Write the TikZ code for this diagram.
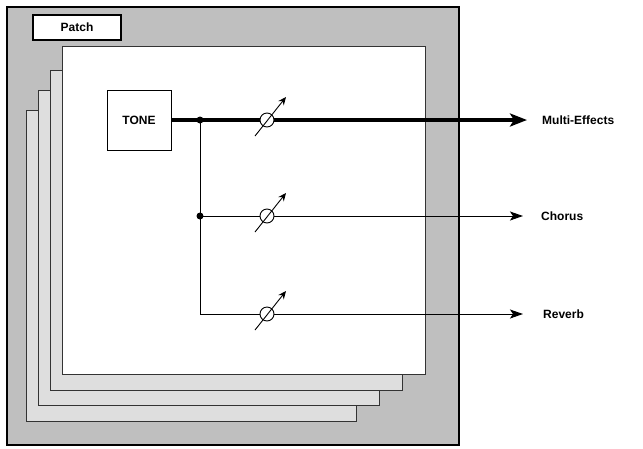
\documentclass[tikz,border=0pt]{standalone}
\usepackage{fontspec}
\setmainfont{Liberation Sans}
\usetikzlibrary{arrows.meta}
\begin{document}
\begin{tikzpicture}[x=1pt,y=-1pt,
  page/.style={draw=black!80,line width=1pt,fill=black!13},
  lbl/.style={font=\bfseries\fontsize{12}{14}\selectfont,anchor=west,inner sep=0},
  sig/.style={line width=1pt,-{Stealth[length=13pt,width=9pt,inset=3pt]}},
  pot/.style={line width=0.9pt}]
\useasboundingbox (0,0) rectangle (643,448);
\draw[fill=black!25,line width=1.3pt] (7,7) rectangle (459,445);
\node[draw,line width=2pt,fill=white,minimum width=88pt,minimum height=25pt,inner sep=0,font=\bfseries\fontsize{12}{14}\selectfont] (patch) at (77,27.5) {Patch};
\draw[page] (26,110) rectangle (356,421);
\draw[page] (38,90) rectangle (379,405);
\draw[page] (50,70) rectangle (402,390);
\draw[page,fill=white] (62,46) rectangle (425,374);
\node[draw,line width=1pt,fill=white,minimum width=64pt,minimum height=60pt,inner sep=0,font=\bfseries\fontsize{12}{14}\selectfont] (tone) at (139,120) {TONE};
\coordinate (j1) at (200,120);
\coordinate (j2) at (200,216);
\coordinate (j3) at (200,314);
\node[lbl] (me) at (542,120) {Multi-Effects};
\node[lbl] (ch) at (541,216) {Chorus};
\node[lbl] (rv) at (543,314) {Reverb};
\coordinate (e1) at (527,120);
\coordinate (e2) at (523,216);
\coordinate (e3) at (523,314);
\draw[line width=4pt,-{Stealth[length=17pt,width=13pt,inset=4pt]}] (tone.east) -- (e1);
\draw[line width=1pt] (j1) -- (j3);
\draw[sig] (j2) -- (e2);
\draw[sig] (j3) -- (e3);
\fill (j1) circle (3.5pt);
\fill (j2) circle (3.5pt);
\foreach \y in {120,216,314}{
  \draw[pot,fill=white] (267,\y) circle (7pt);
  \draw[pot,-{Stealth[length=8pt,width=7pt]}] (255,\y+16) -- (286,\y-23);
}
\end{tikzpicture}
\end{document}
